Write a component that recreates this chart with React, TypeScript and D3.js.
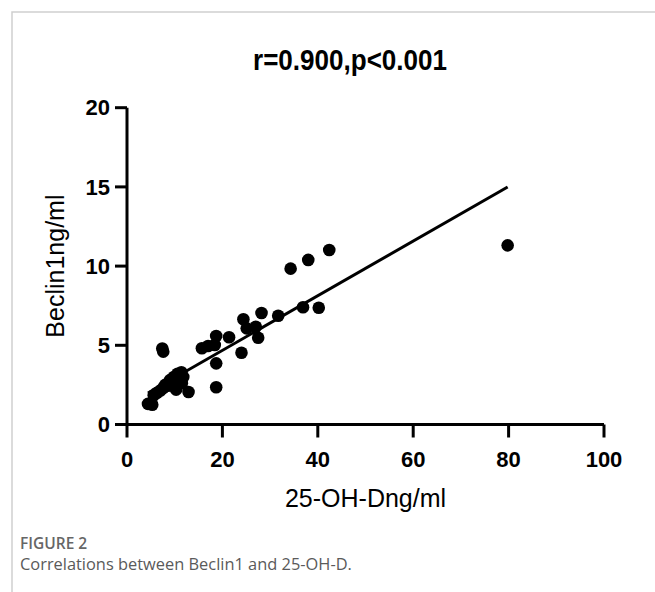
import React from 'react';
import * as d3 from 'd3';

// 25-OH-D (ng/ml) vs Beclin1 (ng/ml)
const vitD = [
  4.4, 5.3, 5.6, 6.3, 7.0, 7.6, 8.0, 8.6, 9.0, 9.4, 9.8, 10.2, 10.6, 11.0, 11.4, 11.8,
  10.3, 11.5, 12.9, 7.6, 7.4, 15.7, 17.0, 18.4, 18.7, 18.7, 18.7, 21.4, 24.0, 24.4,
  25.1, 27.0, 27.5, 28.2, 31.7, 34.3, 36.9, 38.0, 40.2, 42.4, 79.8,
];
const beclin1 = [
  1.3, 1.25, 1.85, 2.0, 2.15, 2.3, 2.5, 2.45, 2.8, 2.55, 3.0, 2.7, 3.2, 2.9, 3.3, 3.0,
  2.2, 2.6, 2.05, 4.6, 4.8, 4.81, 4.96, 5.02, 5.59, 3.86, 2.35, 5.51, 4.53, 6.64,
  6.07, 6.17, 5.48, 7.04, 6.87, 9.84, 7.4, 10.39, 7.37, 11.02, 11.31,
];

const fitSlope = 0.1725;
const fitIntercept = 1.23;

const xTicks = [0, 20, 40, 60, 80, 100];
const yTicks = [0, 5, 10, 15, 20];

const title = 'r=0.900,p<0.001';
const xLabel = '25-OH-Dng/ml';
const yLabel = 'Beclin1ng/ml';

const W = 655;
const H = 592;
const font = '"Liberation Sans", Arial, sans-serif';
const captionFont = '"Open Sans", sans-serif';

export default function App() {
  const x = d3.scaleLinear().domain([0, 100]).range([127, 604]);
  const y = d3.scaleLinear().domain([0, 20]).range([424.5, 107.7]);

  const points = vitD.map((v, i) => ({ v, b: beclin1[i] }));
  const [x0, x1] = d3.extent(vitD) as [number, number];
  const fit = d3
    .line<number>()
    .x((d) => x(d))
    .y((d) => y(fitIntercept + fitSlope * d));

  return (
    <svg
      width={W}
      height={H}
      style={{ position: 'absolute', left: 0, top: 0, background: '#fff' }}
    >
      {/* page frame */}
      <path d={`M 12 ${H} V 12 H ${W}`} fill="none" stroke="#cfcfcf" strokeWidth={1.5} />

      <text
        x={350}
        y={70}
        textAnchor="middle"
        fontFamily={font}
        fontWeight="bold"
        fontSize={30}
        textLength={194}
        lengthAdjust="spacingAndGlyphs"
      >
        {title}
      </text>

      {/* y axis */}
      <line x1={x(0)} x2={x(0)} y1={y(0)} y2={y(20)} stroke="#000" strokeWidth={3} />
      {yTicks.map((t) => (
        <g key={t} transform={`translate(${x(0)}, ${y(t)})`}>
          <line x1={-12} x2={0} stroke="#000" strokeWidth={3} />
          <text
            x={-17}
            dy="0.35em"
            textAnchor="end"
            fontFamily={font}
            fontWeight="bold"
            fontSize={22}
          >
            {t}
          </text>
        </g>
      ))}

      {/* x axis */}
      <line x1={x(0)} x2={x(100)} y1={y(0)} y2={y(0)} stroke="#000" strokeWidth={3} />
      {xTicks.map((t) => (
        <g key={t} transform={`translate(${x(t)}, ${y(0)})`}>
          <line y1={0} y2={13} stroke="#000" strokeWidth={3} />
          <text
            y={42}
            textAnchor="middle"
            fontFamily={font}
            fontWeight="bold"
            fontSize={22}
          >
            {t}
          </text>
        </g>
      ))}

      <text
        x={(x(0) + x(100)) / 2}
        y={507}
        textAnchor="middle"
        fontFamily={font}
        fontSize={25}
      >
        {xLabel}
      </text>
      <text
        transform={`translate(64, ${(y(0) + y(20)) / 2}) rotate(-90)`}
        textAnchor="middle"
        fontFamily={font}
        fontSize={25}
      >
        {yLabel}
      </text>

      <path d={fit([x0, x1]) || ''} fill="none" stroke="#000" strokeWidth={3} />

      {points.map((p, i) => (
        <circle key={i} cx={x(p.v)} cy={y(p.b)} r={6.3} fill="#000" />
      ))}

      {/* caption */}
      <text x={20} y={549} fontFamily={captionFont} fontWeight={600} fontSize={15.5} fill="#666">
        FIGURE 2
      </text>
      <text x={20} y={570} fontFamily={captionFont} fontSize={16.4} fill="#5a5a5a">
        Correlations between Beclin1 and 25-OH-D.
      </text>
    </svg>
  );
}
